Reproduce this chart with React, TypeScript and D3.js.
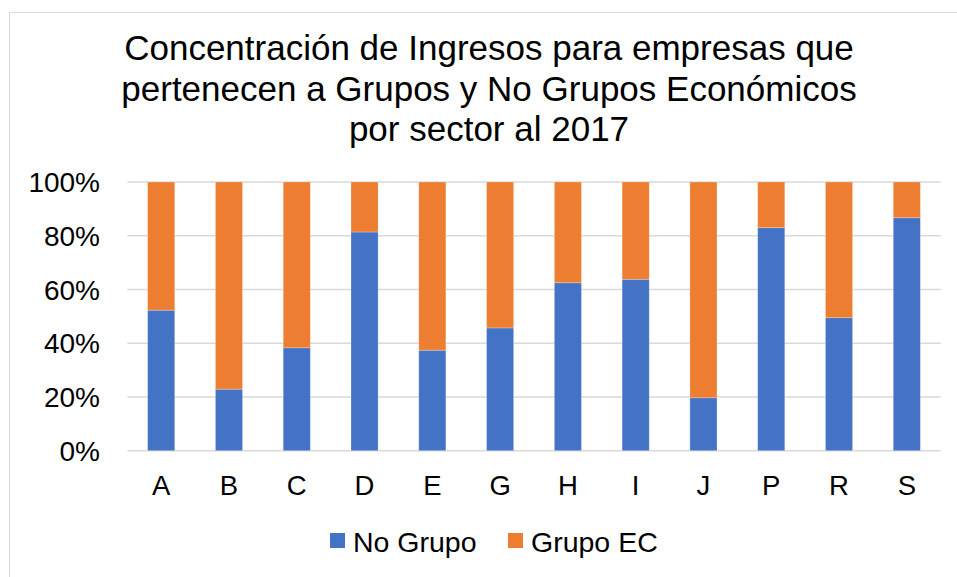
import React from "react";
import * as d3 from "d3";

const categories = ["A", "B", "C", "D", "E", "G", "H", "I", "J", "P", "R", "S"];
const noGrupo = [52.3, 22.9, 38.3, 81.4, 37.4, 45.7, 62.5, 63.8, 19.7, 83.0, 49.5, 86.7];
const grupoEC = noGrupo.map((v) => 100 - v);
const yTicks = [0, 20, 40, 60, 80, 100];
const seriesNames = ["No Grupo", "Grupo EC"];
const seriesColors = ["#4472C4", "#ED7D31"];
const titleLines = [
  "Concentración de Ingresos para empresas que",
  "pertenecen a Grupos y No Grupos Económicos",
  "por sector al 2017",
];

const W = 957;
const H = 577;
const FONT = "'Liberation Sans', Arial, sans-serif";

export default function App() {
  const x = d3
    .scaleBand<string>()
    .domain(categories)
    .range([127.3, 940.7])
    .paddingInner(0.6)
    .paddingOuter(0.3);
  const y = d3.scaleLinear().domain([0, 100]).range([450.7, 182]);

  const rows = categories.map((c, i) => ({ cat: c, no: noGrupo[i], ec: grupoEC[i] }));
  const stack = d3.stack<any>().keys(["no", "ec"])(rows);

  return (
    <svg
      width={W}
      height={H}
      style={{ position: "absolute", left: 0, top: 0, background: "#fff" }}
      fontFamily={FONT}
    >
      <rect x={0} y={0} width={W} height={H} fill="#fff" />
      <rect x={9.5} y={12.5} width={W + 20} height={H + 20} fill="none" stroke="#d9d9d9" strokeWidth={1} />
      {titleLines.map((t, i) => (
        <text key={i} x={489} y={60 + i * 40.5} textAnchor="middle" fontSize={35} fill="#000">
          {t}
        </text>
      ))}
      {yTicks.map((t) => (
        <g key={t}>
          <line x1={127.3} x2={940.7} y1={y(t)} y2={y(t)} stroke="#d9d9d9" strokeWidth={1.4} />
          <text x={100} y={y(t)} dy="0.36em" textAnchor="end" fontSize={28} fill="#000">
            {t}%
          </text>
        </g>
      ))}
      {stack.map((s, si) => (
        <g key={si} fill={seriesColors[si]}>
          {s.map((d: any, i: number) => (
            <rect
              key={i}
              x={x(d.data.cat)}
              width={x.bandwidth()}
              y={y(d[1])}
              height={y(d[0]) - y(d[1])}
              stroke="#ffffff"
              strokeOpacity={0.35}
              strokeWidth={0.75}
            />
          ))}
        </g>
      ))}
      {categories.map((c) => (
        <text key={c} x={(x(c) as number) + x.bandwidth() / 2} y={495} textAnchor="middle" fontSize={27.5} fill="#000">
          {c}
        </text>
      ))}
      {seriesNames.map((n, i) => {
        const lx = [330, 508][i];
        return (
          <g key={n}>
            <rect x={lx} y={533} width={15} height={15} fill={seriesColors[i]} />
            <text x={lx + 23} y={552} fontSize={28.5} fill="#000">
              {n}
            </text>
          </g>
        );
      })}
    </svg>
  );
}
